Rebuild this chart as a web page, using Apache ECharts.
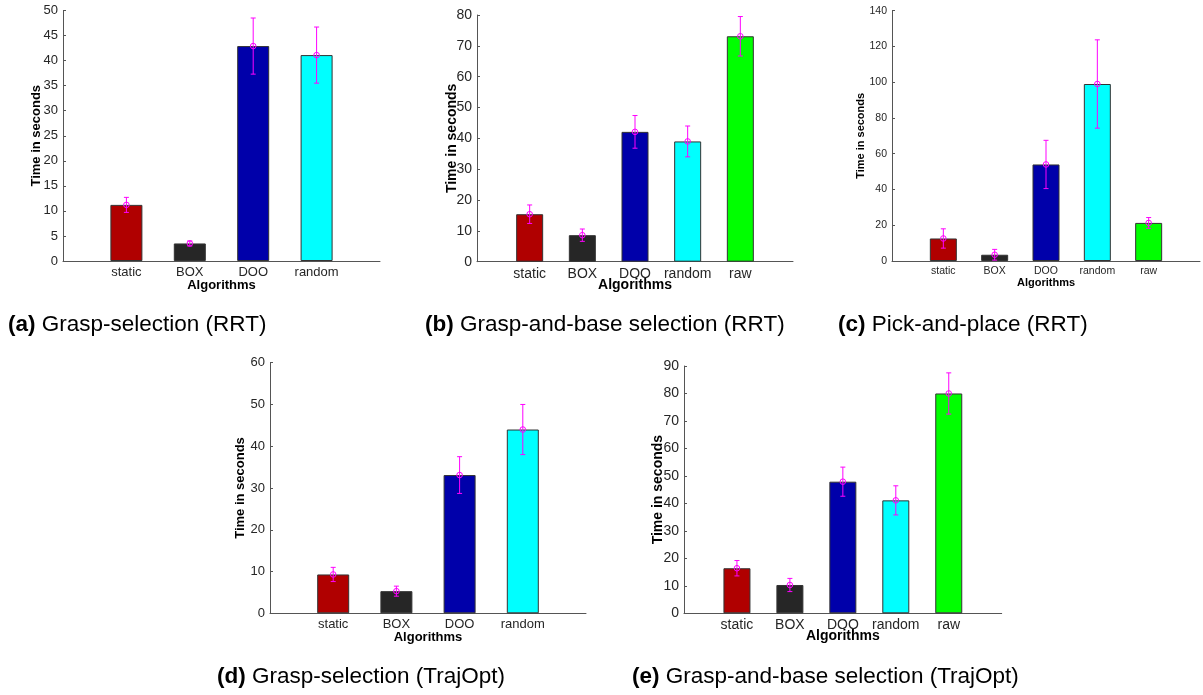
<!DOCTYPE html>
<html>
<head>
<meta charset="utf-8">
<script src="https://cdn.jsdelivr.net/npm/echarts@6/dist/echarts.min.js"></script>
<style>
html,body{margin:0;padding:0;background:#fff;}
#chart{width:1203px;height:695px;}
</style>
</head>
<body>
<div id="chart"></div>
<script>
// ---- data ----
const catsA = ['static', 'BOX', 'DOO', 'random'];
const meanA = [11.2, 3.5, 42.9, 41.1];
const errA  = [1.5, 0.5, 5.6, 5.6];

const catsB = ['static', 'BOX', 'DOO', 'random', 'raw'];
const meanB = [15.4, 8.6, 42.1, 39.0, 73.1];
const errB  = [3.0, 2.0, 5.3, 5.0, 6.4];

const catsC = ['static', 'BOX', 'DOO', 'random', 'raw'];
const meanC = [12.6, 3.5, 54.0, 99.0, 21.3];
const errC  = [5.4, 3.0, 13.5, 24.7, 3.0];

const catsD = ['static', 'BOX', 'DOO', 'random'];
const meanD = [9.3, 5.3, 33.1, 44.0];
const errD  = [1.7, 1.2, 4.4, 6.0];

const catsE = ['static', 'BOX', 'DOO', 'random', 'raw'];
const meanE = [16.4, 10.3, 47.9, 41.1, 80.0];
const errE  = [2.8, 2.4, 5.3, 5.3, 7.5];

const yMaxes = [50, 80, 140, 60, 90];
const yIntervals = [5, 10, 20, 10, 10];
const captions = [
  ['(a)', 'Grasp-selection (RRT)'],
  ['(b)', 'Grasp-and-base selection (RRT)'],
  ['(c)', 'Pick-and-place (RRT)'],
  ['(d)', 'Grasp-selection (TrajOpt)'],
  ['(e)', 'Grasp-and-base selection (TrajOpt)']
];
const barColors = {static: '#b00000', BOX: '#262626', DOO: '#0000aa', random: '#00ffff', raw: '#00ff00'};

// ---- layout ----
const panels = [
  {cats: catsA, mean: meanA, err: errA, grid: {left: 63, top: 10.5, width: 317, height: 250.5}, fs: 13, nameFs: 13, nameGap: 20, barW: 32, xNameY: 18, cap: {left: 8, top: 313}},
  {cats: catsB, mean: meanB, err: errB, grid: {left: 477, top: 15, width: 316, height: 246.7}, fs: 14, nameFs: 14, nameGap: 18, barW: 27, xNameY: 16, cap: {left: 425, top: 313}},
  {cats: catsC, mean: meanC, err: errC, grid: {left: 892, top: 10.7, width: 317, height: 250.3}, fs: 10.5, nameFs: 11, nameGap: 26, barW: 27, xNameY: 16, cap: {left: 838, top: 313}},
  {cats: catsD, mean: meanD, err: errD, grid: {left: 270, top: 362.7, width: 316, height: 250.6}, fs: 13, nameFs: 13, nameGap: 23, barW: 32, xNameY: 18, cap: {left: 217, top: 665.5}},
  {cats: catsE, mean: meanE, err: errE, grid: {left: 684, top: 366, width: 317.7, height: 247.3}, fs: 14, nameFs: 14, nameGap: 19, barW: 27, xNameY: 16, cap: {left: 632, top: 665.5}}
];

const FONT = '"Liberation Sans", Arial, Helvetica, sans-serif';
const grids = [], xAxes = [], yAxes = [], series = [], titles = [];

panels.forEach((p, i) => {
  const n = p.cats.length;
  grids.push(Object.assign({containLabel: false}, p.grid));
  xAxes.push({
    type: 'value', gridIndex: i, min: 0, max: n + 1, interval: 1,
    name: 'Algorithms', nameLocation: 'middle', nameGap: p.xNameY, nameMoveOverlap: false,
    nameTextStyle: {fontFamily: FONT, fontWeight: 'bold', fontSize: p.nameFs, color: '#000'},
    axisLine: {lineStyle: {color: '#555', width: 1}},
    axisTick: {show: false},
    splitLine: {show: false},
    axisLabel: {
      fontFamily: FONT, fontSize: p.fs, color: '#262626', margin: 5,
      showMinLabel: true, showMaxLabel: true,
      formatter: v => (v >= 1 && v <= n) ? p.cats[v - 1] : ''
    }
  });
  yAxes.push({
    type: 'value', gridIndex: i, min: 0, max: yMaxes[i], interval: yIntervals[i],
    name: 'Time in seconds', nameLocation: 'middle', nameGap: p.nameGap, nameRotate: 90,
    nameMoveOverlap: false,
    nameTextStyle: {fontFamily: FONT, fontWeight: 'bold', fontSize: p.nameFs, color: '#000'},
    axisLine: {show: true, lineStyle: {color: '#555', width: 1}},
    axisTick: {show: true, inside: true, length: 3, lineStyle: {color: '#555'}},
    splitLine: {show: false},
    axisLabel: {fontFamily: FONT, fontSize: p.fs, color: '#262626', margin: 5}
  });
  series.push({
    type: 'bar', xAxisIndex: i, yAxisIndex: i, barWidth: p.barW, z: 2,
    data: p.mean.map((v, k) => ({
      value: [k + 1, v],
      itemStyle: {color: barColors[p.cats[k]], borderColor: '#333', borderWidth: 1}
    })),
    silent: true, animation: false
  });
  series.push({
    type: 'custom', xAxisIndex: i, yAxisIndex: i, silent: true, animation: false, z: 5,
    data: p.mean.map((v, k) => [k + 1, v - p.err[k], v + p.err[k], v]),
    renderItem: (params, api) => {
      const x = api.value(0);
      const lo = api.coord([x, api.value(1)]);
      const hi = api.coord([x, api.value(2)]);
      const mid = api.coord([x, api.value(3)]);
      const c = 2.5;
      const st = {stroke: '#ff00ff', lineWidth: 1, fill: null};
      return {type: 'group', children: [
        {type: 'line', shape: {x1: lo[0], y1: lo[1], x2: hi[0], y2: hi[1]}, style: st},
        {type: 'line', shape: {x1: lo[0] - c, y1: lo[1], x2: lo[0] + c, y2: lo[1]}, style: st},
        {type: 'line', shape: {x1: hi[0] - c, y1: hi[1], x2: hi[0] + c, y2: hi[1]}, style: st},
        {type: 'circle', shape: {cx: mid[0], cy: mid[1], r: 2.8}, style: {stroke: '#ff00ff', lineWidth: 1, fill: 'none'}}
      ]};
    }
  });
  titles.push({
    text: '{b|' + captions[i][0] + '} ' + captions[i][1],
    left: p.cap.left, top: p.cap.top, padding: 0,
    textStyle: {fontFamily: FONT, fontSize: 22.5, fontWeight: 'normal', color: '#000',
      rich: {b: {fontFamily: FONT, fontSize: 22.5, fontWeight: 'bold', color: '#000'}}}
  });
});

const chart = echarts.init(document.getElementById('chart'), null, {renderer: 'canvas'});
chart.setOption({
  animation: false,
  backgroundColor: '#fff',
  title: titles,
  grid: grids,
  xAxis: xAxes,
  yAxis: yAxes,
  series: series
});
</script>
</body>
</html>
